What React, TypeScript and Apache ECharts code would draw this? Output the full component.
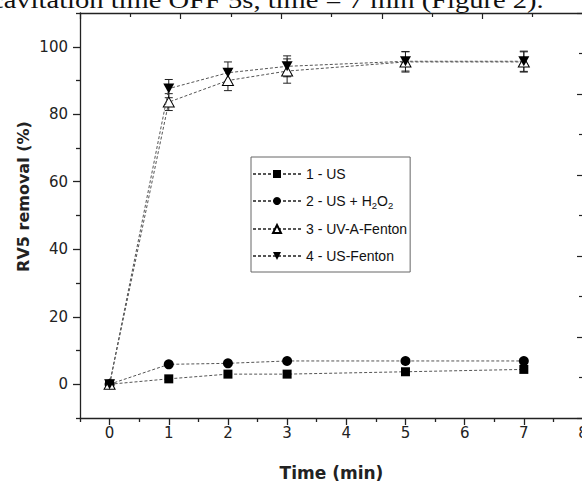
import React, { useEffect, useRef } from "react";
import * as echarts from "echarts";

const timeMin = [0, 1, 2, 3, 5, 7];
const usRemoval = [0, 1.6, 3.0, 3.0, 3.7, 4.4];
const usH2o2Removal = [0, 5.9, 6.2, 6.9, 6.9, 6.9];
const uvaFentonRemoval = [0, 83.6, 90.0, 92.8, 95.5, 95.5];
const uvaFentonError = [0, 2.5, 3.0, 3.6, 3.0, 3.0];
const usFentonRemoval = [0, 87.6, 92.3, 94.2, 95.7, 95.7];
const usFentonError = [0, 2.7, 3.2, 3.1, 2.9, 3.0];
const seriesNames = ["1 - US", "2 - US + H2O2", "3 - UV-A-Fenton", "4 - US-Fenton"];
const xTickLabels = [0, 1, 2, 3, 4, 5, 6, 7, 8];
const yTickLabels = [0, 20, 40, 60, 80, 100];
const headerText = "cavitation time OFF 5s, time = 7 min (Figure 2).";

const pairs = (ys: number[]) => timeMin.map((t, i) => [t, ys[i]]);
const errTriples = (ys: number[], es: number[]) => timeMin.map((t, i) => [t, ys[i], es[i]]);

const DASH = { color: "#555", width: 1, type: [3, 2] as any };
const downTri = "path://M0,0 L10,0 L5,9 Z";

export default function App() {
  const ref = useRef<HTMLDivElement>(null);
  useEffect(() => {
    if (!ref.current) return;
    const chart = echarts.init(ref.current, undefined, { renderer: "svg" });
    const errorRender = (params: any, api: any) => {
      const x = api.value(0);
      const y = api.value(1);
      const e = api.value(2);
      if (!(e > 0)) return { type: "group", children: [] };
      const top = api.coord([x, y + e]);
      const bot = api.coord([x, y - e]);
      const style = { stroke: "#222", lineWidth: 1, fill: "none" };
      return {
        type: "group",
        children: [
          { type: "line", shape: { x1: top[0], y1: top[1], x2: bot[0], y2: bot[1] }, style },
          { type: "line", shape: { x1: top[0] - 4, y1: top[1], x2: top[0] + 4, y2: top[1] }, style },
          { type: "line", shape: { x1: bot[0] - 4, y1: bot[1], x2: bot[0] + 4, y2: bot[1] }, style },
        ],
      };
    };
    const axisLine = { show: true, onZero: false, lineStyle: { color: "#222", width: 1.3 } };
    const noLine = { show: false, onZero: false };
    const labelFont = { fontFamily: "DejaVu Sans", fontSize: 15, color: "#222" };
    const option: any = {
      animation: false,
      backgroundColor: "#fff",
      grid: { left: 80, top: 13, width: 503, height: 405, containLabel: false, outerBoundsMode: "none" },
      xAxis: [
        {
          type: "value", min: -0.5, max: 8, interval: 1, position: "bottom",
          axisLine, splitLine: { show: false },
          axisTick: { show: true, length: 7, customValues: xTickLabels, lineStyle: { color: "#222", width: 1.3 } },
          axisLabel: { show: true, customValues: xTickLabels, margin: 7, ...labelFont },
          name: "Time (min)", nameLocation: "middle", nameGap: 46,
          nameTextStyle: { fontFamily: "DejaVu Sans", fontWeight: "bold", fontSize: 17, color: "#222" },
        },
        {
          type: "value", min: -0.5, max: 8, interval: 1, position: "bottom",
          axisLine: noLine, splitLine: { show: false },
          axisTick: { show: true, length: 4, lineStyle: { color: "#222", width: 1.3 } },
          axisLabel: { show: false },
        },
        {
          type: "value", min: 0, max: 10, interval: 2, position: "top",
          axisLine, splitLine: { show: false },
          axisTick: { show: true, inside: true, length: 6, lineStyle: { color: "#222", width: 1.2 } },
          minorTick: { show: true, splitNumber: 2, length: 4, lineStyle: { color: "#222", width: 1.2 } },
          axisLabel: { show: false },
        },
      ],
      yAxis: [
        {
          type: "value", min: -10, max: 110, interval: 20, position: "left",
          axisLine, splitLine: { show: false },
          axisTick: { show: true, length: 7, customValues: yTickLabels, lineStyle: { color: "#222", width: 1.3 } },
          axisLabel: { show: true, customValues: yTickLabels, margin: 12, ...labelFont },
        },
        {
          type: "value", min: -10, max: 110, interval: 20, position: "left",
          axisLine: noLine, splitLine: { show: false },
          axisTick: { show: true, length: 4, lineStyle: { color: "#222", width: 1.3 } },
          axisLabel: { show: false },
        },
        {
          type: "value", min: 0, max: 10, interval: 2, position: "right",
          axisLine: noLine, splitLine: { show: false },
          axisTick: { show: true, inside: true, length: 6, lineStyle: { color: "#222", width: 1.2 } },
          minorTick: { show: true, splitNumber: 2, length: 4, lineStyle: { color: "#222", width: 1.2 } },
          axisLabel: { show: false },
        },
      ],
      legend: {
        data: seriesNames,
        orient: "vertical",
        left: 251,
        top: 157,
        padding: [9, 3, 8, 1],
        itemWidth: 48,
        itemHeight: 10,
        itemGap: 11,
        borderColor: "#666",
        borderWidth: 1,
        selectedMode: false,
        textStyle: {
          fontFamily: "Liberation Sans", fontSize: 14, color: "#111", lineHeight: 16,
          rich: {
            sub: { fontFamily: "Liberation Sans", fontSize: 9.5, color: "#111", padding: [8, 0, 0, 0] },
          },
        },
        formatter: (name: string) => (name === seriesNames[1] ? "2 - US + H{sub|2}O{sub|2}" : name),
      },
      graphic: [
        {
          type: "text", x: -9, y: 0.4, scaleX: 1.19, silent: true,
          style: { text: headerText, font: "24px 'Liberation Serif'", fill: "#111", verticalAlign: "middle", align: "left" },
        },
        {
          type: "text", x: 23, y: 196.5, rotation: Math.PI / 2, silent: true,
          style: { text: "RV5 removal (%)", font: "bold 16px 'DejaVu Sans'", fill: "#222", align: "center", verticalAlign: "middle" },
        },
      ],
      series: [
        {
          name: seriesNames[0], type: "line", data: pairs(usRemoval), symbol: "rect", symbolSize: 9,
          lineStyle: DASH, itemStyle: { color: "#000" }, z: 3,
        },
        {
          name: seriesNames[1], type: "line", data: pairs(usH2o2Removal), symbol: "circle", symbolSize: 10,
          lineStyle: DASH, itemStyle: { color: "#000" }, z: 3,
        },
        {
          name: "err3", type: "custom", renderItem: errorRender, data: errTriples(uvaFentonRemoval, uvaFentonError),
          encode: { x: 0, y: 1 }, z: 2, silent: true,
        },
        {
          name: "err4", type: "custom", renderItem: errorRender, data: errTriples(usFentonRemoval, usFentonError),
          encode: { x: 0, y: 1 }, z: 2, silent: true,
        },
        {
          name: seriesNames[2], type: "line", data: pairs(uvaFentonRemoval), symbol: "triangle", symbolSize: [11, 10],
          lineStyle: DASH, itemStyle: { color: "#fff", borderColor: "#000", borderWidth: 1 }, z: 3,
        },
        {
          name: seriesNames[3], type: "line", data: pairs(usFentonRemoval), symbol: downTri, symbolSize: [11, 10],
          lineStyle: DASH, itemStyle: { color: "#000" }, z: 4,
        },
      ],
    };
    chart.setOption(option);
    return () => chart.dispose();
  }, []);
  return <div ref={ref} style={{ position: "fixed", left: 0, top: 0, width: 582, height: 481 }} />;
}
